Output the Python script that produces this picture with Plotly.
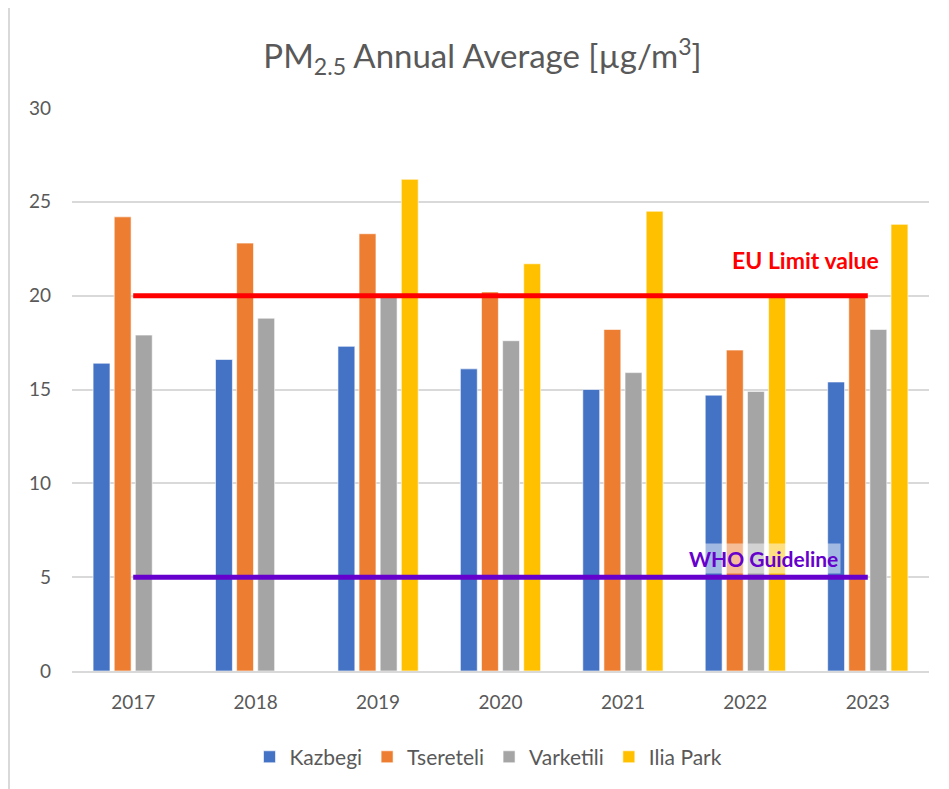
import plotly.graph_objects as go

years = ["2017", "2018", "2019", "2020", "2021", "2022", "2023"]
kazbegi = [16.4, 16.6, 17.3, 16.1, 15.0, 14.7, 15.4]
tsereteli = [24.2, 22.8, 23.3, 20.2, 18.2, 17.1, 19.9]
varketili = [17.9, 18.8, 19.9, 17.6, 15.9, 14.9, 18.2]
ilia_park = [None, None, 26.2, 21.7, 24.5, 19.9, 23.8]
eu_limit = [20] * len(years)
who_guideline = [5] * len(years)

series = [
    ("Kazbegi", kazbegi, "#4472C4"),
    ("Tsereteli", tsereteli, "#ED7D31"),
    ("Varketili", varketili, "#A5A5A5"),
    ("Ilia Park", ilia_park, "#FFC000"),
]

font_family = "Lato, 'Open Sans', sans-serif"
grey_text = "#595959"

fig = go.Figure()

for name, values, color in series:
    fig.add_trace(go.Bar(
        x=years, y=values, name=name,
        marker=dict(color=color, line=dict(color="white", width=0.6)),
    ))

# reference lines drawn as line series across the categories
fig.add_trace(go.Scatter(x=years, y=eu_limit, mode="lines", showlegend=False,
                         line=dict(color="#FF0000", width=5), hoverinfo="skip"))
fig.add_trace(go.Scatter(x=years, y=who_guideline, mode="lines", showlegend=False,
                         line=dict(color="#6600CC", width=5), hoverinfo="skip"))

fig.update_layout(
    width=949, height=789,
    margin=dict(l=64, r=28, t=100, b=126),
    paper_bgcolor="white", plot_bgcolor="white",
    font=dict(family=font_family, color=grey_text, size=19),
    title=dict(text="PM<sub>2.5</sub> Annual Average [µg/m<sup>3</sup>]",
               x=0.5, xanchor="center", y=0.938, yanchor="middle",
               font=dict(size=33, color=grey_text, family=font_family)),
    barmode="group", bargap=0.31, bargroupgap=0.2,
    legend=dict(orientation="h", x=0.486, xanchor="center", y=-0.153, yanchor="middle",
                font=dict(size=21, color=grey_text), itemwidth=30, traceorder="normal"),
    xaxis=dict(showgrid=False, showline=True, linecolor="#d9d9d9", linewidth=1.5,
               ticks="", tickfont=dict(size=19, color=grey_text), ticklabelstandoff=13),
    yaxis=dict(range=[0, 30], dtick=5, showgrid=True, gridcolor="#d9d9d9", gridwidth=1.5,
               zeroline=False, showline=False, ticks="",
               tickfont=dict(size=19, color=grey_text), ticklabelstandoff=20),
    showlegend=True,
)

fig.add_annotation(text="<b>EU Limit value</b>", xref="paper", yref="y",
                   x=0.856, y=21.9, xanchor="center", yanchor="middle", showarrow=False,
                   font=dict(size=23, color="#FF0000", family=font_family))
fig.add_annotation(text="<b>WHO Guideline</b>", xref="paper", yref="y",
                   x=0.807, y=5.97, xanchor="center", yanchor="middle", showarrow=False,
                   bgcolor="rgba(255,255,255,0.5)", borderpad=2,
                   font=dict(size=21, color="#6600CC", family=font_family))

# chart-area frame (top and left edges visible)
frame_left = -63 / 857
frame_top = 1 + 661 / 563
fig.add_shape(type="line", xref="paper", yref="paper",
              x0=frame_left, x1=1.1, y0=frame_top, y1=frame_top,
              line=dict(color="#d9d9d9", width=2))
fig.add_shape(type="line", xref="paper", yref="paper",
              x0=frame_left, x1=frame_left, y0=-0.3, y1=frame_top,
              line=dict(color="#d9d9d9", width=2))

fig.write_html("out.html")
